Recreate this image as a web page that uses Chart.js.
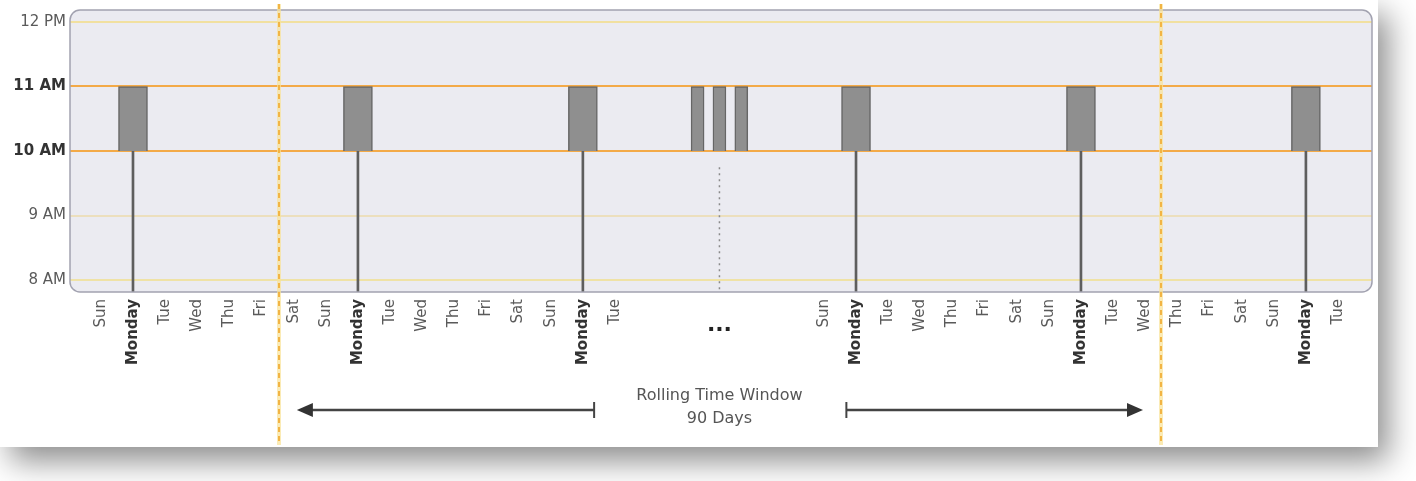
<!DOCTYPE html>
<html lang="en">

<head>
    <meta charset="UTF-8">
    <meta name="viewport" content="width=device-width, initial-scale=1.0">
    <script src="https://cdn.jsdelivr.net/npm/chart.js"></script>
    <title>Rolling Time Window</title>
    <style>
        html, body { margin: 0; padding: 0; background: #fff; overflow: hidden; }
        .card {
            position: absolute; left: 0; top: 0;
            width: 1378px; height: 447px;
            background: #fff;
            box-shadow: 10px 14px 30px rgba(0, 0, 0, 0.45);
        }
        canvas { display: block; }
    </style>
</head>

<body>
    <div class="card">
        <canvas id="sessionChart" width="1378" height="447"></canvas>
    </div>
    <script>
        // day labels before and after the skipped part of the window
        const startDays = ["Sun", "Monday", "Tue", "Wed", "Thu", "Fri", "Sat", "Sun", "Monday", "Tue", "Wed", "Thu", "Fri", "Sat", "Sun", "Monday", "Tue"];
        const endDays = ["Sun", "Monday", "Tue", "Wed", "Thu", "Fri", "Sat", "Sun", "Monday", "Tue", "Wed", "Thu", "Fri", "Sat", "Sun", "Monday", "Tue"];
        const skippedDays = 6.5;

        // hour axis
        const hourValues = [8, 9, 10, 11, 12];
        const hourLabels = ["8 AM", "9 AM", "10 AM", "11 AM", "12 PM"];
        const hourLineColors = ["#efe2a6", "#ecdfbd", "#f3aa48", "#f3aa48", "#f1e0a0"];

        // weekly session from 10 to 11 AM, plus the elided ones
        const sessionHours = [10, 11];
        const elidedSessionDays = [18.57, 19.25, 19.93];

        // rolling window bounds (in days) and caption
        const windowStart = 5.55;
        const windowEnd = 33;
        const captionLines = ["Rolling Time Window", "90 Days"];

        const yMin = 7.814, yMax = 12.186;
        const xMin = -0.96, xMax = 39.557;

        const dayLabels = startDays.concat(endDays);
        const dayPositions = startDays.map((d, i) => i)
            .concat(endDays.map((d, j) => startDays.length - 1 + skippedDays + j));
        const ellipsisDay = (startDays.length - 1 + dayPositions[startDays.length]) / 2;
        const mondays = dayPositions.filter((p, i) => dayLabels[i] === "Monday");

        const isSessionHour = ctx => !!ctx.tick && sessionHours.includes(ctx.tick.value);
        const isMonday = ctx => dayLabels[ctx.index] === "Monday";

        Chart.defaults.font.family = '"DejaVu Sans", sans-serif';
        Chart.defaults.font.size = 15;
        Chart.defaults.color = "#555";

        const plotBox = {
            id: "plotBox",
            beforeDraw(chart) {
                const a = chart.chartArea, c = chart.ctx;
                c.save();
                c.beginPath();
                c.roundRect(a.left, a.top, a.right - a.left, a.bottom - a.top, 10);
                c.fillStyle = "#ebebf1";
                c.fill();
                c.restore();
            },
            afterDatasetsDraw(chart) {
                const a = chart.chartArea, c = chart.ctx;
                c.save();
                c.beginPath();
                c.roundRect(a.left, a.top, a.right - a.left, a.bottom - a.top, 10);
                c.strokeStyle = "#a2a2b0";
                c.lineWidth = 1.5;
                c.stroke();
                c.restore();
            }
        };

        const windowNotes = {
            id: "windowNotes",
            afterDraw(chart) {
                const c = chart.ctx, x = chart.scales.x;
                c.save();
                // window boundaries
                [windowStart, windowEnd].forEach(v => {
                    const px = Math.round(x.getPixelForValue(v));
                    c.beginPath();
                    c.moveTo(px, 4);
                    c.lineTo(px, 445);
                    c.strokeStyle = "rgba(250, 226, 150, 0.7)";
                    c.lineWidth = 4;
                    c.setLineDash([]);
                    c.stroke();
                    c.strokeStyle = "#f2b444";
                    c.lineWidth = 2;
                    c.setLineDash([5, 4]);
                    c.stroke();
                });
                c.setLineDash([]);

                // ellipsis between the two runs of days
                const mid = x.getPixelForValue(ellipsisDay);
                c.fillStyle = "#222";
                c.font = 'bold 22px "DejaVu Sans", sans-serif';
                c.textAlign = "center";
                c.textBaseline = "alphabetic";
                c.fillText("...", mid, 331);

                // arrows
                const ay = 410;
                const drawArrow = (from, to) => {
                    const dir = Math.sign(to - from);
                    c.strokeStyle = "#444";
                    c.fillStyle = "#333";
                    c.lineWidth = 2.5;
                    c.beginPath();
                    c.moveTo(from, ay);
                    c.lineTo(to - dir * 12, ay);
                    c.stroke();
                    c.beginPath();
                    c.moveTo(to, ay);
                    c.lineTo(to - dir * 16, ay - 7);
                    c.lineTo(to - dir * 16, ay + 7);
                    c.closePath();
                    c.fill();
                    c.lineWidth = 2;
                    c.beginPath();
                    c.moveTo(from, ay - 8);
                    c.lineTo(from, ay + 8);
                    c.stroke();
                };
                drawArrow(x.getPixelForValue(15.35), x.getPixelForValue(windowStart + 0.55));
                drawArrow(x.getPixelForValue(23.2), x.getPixelForValue(windowEnd - 0.57));

                c.fillStyle = "#555";
                c.font = '16px "DejaVu Sans", sans-serif';
                c.textBaseline = "middle";
                c.fillText(captionLines[0], mid, 396);
                c.fillText(captionLines[1], mid, 419);
                c.restore();
            }
        };

        new Chart(document.getElementById("sessionChart"), {
            type: "bar",
            data: {
                datasets: [{
                    label: "Session",
                    data: mondays.map(d => ({ x: d, y: sessionHours })),
                    backgroundColor: "#8f8f8f",
                    borderColor: "#666",
                    borderWidth: 1.5,
                    barThickness: 29
                }, {
                    label: "Elided sessions",
                    data: elidedSessionDays.map(d => ({ x: d, y: sessionHours })),
                    backgroundColor: "#8f8f8f",
                    borderColor: "#666",
                    borderWidth: 1.5,
                    barThickness: 13
                }, {
                    label: "Drop lines",
                    data: mondays.map(d => ({ x: d, y: [yMin, sessionHours[0]] })),
                    backgroundColor: "#5e5e5e",
                    borderWidth: 0,
                    barThickness: 2
                }, {
                    type: "line",
                    label: "Elided drop line",
                    data: [{ x: ellipsisDay, y: sessionHours[0] - 0.25 }, { x: ellipsisDay, y: yMin }],
                    borderColor: "#8a8a8a",
                    borderWidth: 1.5,
                    borderDash: [2, 4],
                    pointRadius: 0
                }]
            },
            options: {
                responsive: false,
                devicePixelRatio: 1,
                animation: false,
                grouped: false,
                layout: { padding: { left: 8, top: 10, right: 6, bottom: 0 } },
                scales: {
                    x: {
                        type: "linear",
                        min: xMin,
                        max: xMax,
                        offset: false,
                        grid: { display: false, drawTicks: false },
                        border: { display: false },
                        afterBuildTicks: s => { s.ticks = dayPositions.map(v => ({ value: v })); },
                        afterFit: s => { s.height = 155; },
                        ticks: {
                            autoSkip: false,
                            minRotation: 90,
                            maxRotation: 90,
                            padding: 7,
                            callback: (v, i) => dayLabels[i],
                            color: ctx => isMonday(ctx) ? "#333" : "#5a5a5a",
                            font: ctx => ({
                                family: '"DejaVu Sans", sans-serif',
                                size: 15,
                                weight: isMonday(ctx) ? "bold" : "normal"
                            })
                        }
                    },
                    y: {
                        min: yMin,
                        max: yMax,
                        afterBuildTicks: s => { s.ticks = hourValues.map(v => ({ value: v })); },
                        afterFit: s => { s.width = 62; s.paddingTop = 0; s.paddingBottom = 0; },
                        border: { display: false },
                        grid: {
                            drawTicks: false,
                            color: ctx => ctx.tick ? hourLineColors[hourValues.indexOf(ctx.tick.value)] : "rgba(0,0,0,0)",
                            lineWidth: 2
                        },
                        ticks: {
                            padding: 4,
                            callback: (v, i) => hourLabels[i],
                            color: ctx => isSessionHour(ctx) ? "#333" : "#5a5a5a",
                            font: ctx => ({
                                family: '"DejaVu Sans", sans-serif',
                                size: 15,
                                weight: isSessionHour(ctx) ? "bold" : "normal"
                            })
                        }
                    }
                },
                plugins: {
                    legend: { display: false },
                    tooltip: { enabled: false }
                }
            },
            plugins: [plotBox, windowNotes]
        });
    </script>
</body>

</html>
